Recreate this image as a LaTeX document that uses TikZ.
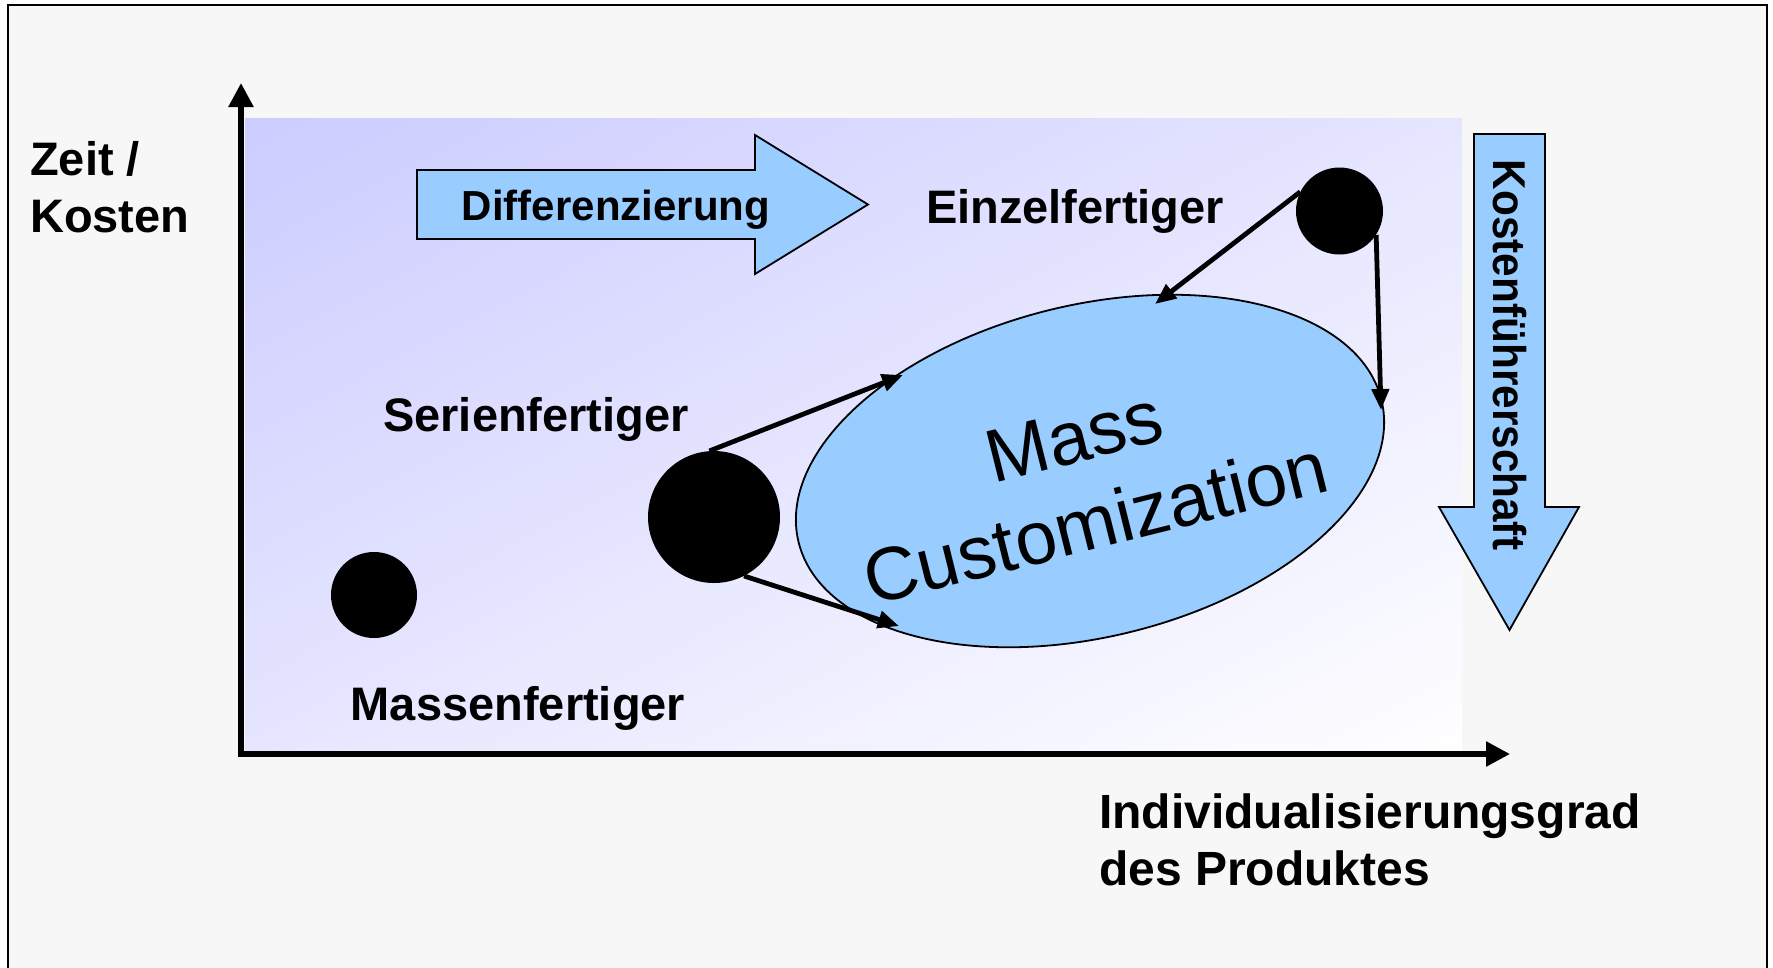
\documentclass[tikz,border=0pt]{standalone}
\usepackage{fontspec}
\setmainfont{Liberation Sans}
\usetikzlibrary{arrows.meta,shapes.geometric}
\definecolor{bgray}{HTML}{F7F7F7}
\definecolor{lav}{RGB}{204,204,255}
\definecolor{lblue}{HTML}{99CCFF}
\begin{document}
\begin{tikzpicture}[x=1pt,y=-1pt,
  lbl/.style={font=\bfseries\fontsize{47}{57}\selectfont, inner sep=0pt},
  lblb/.style={font=\bfseries\fontsize{48}{57}\selectfont, inner sep=0pt},
  dot/.style={circle, fill=black, inner sep=0pt},
  conn/.style={line width=4.8pt, -{Triangle[length=21pt,width=17pt]}},
  bigarrow/.style={fill=lblue, draw=black, line width=1.8pt, line join=miter},
  axisline/.style={line width=5.5pt, line join=miter, {Triangle[length=24pt,width=24pt]}-{Triangle[length=24pt,width=24pt]}}]
\useasboundingbox (0,0) rectangle (1773,967);
\fill[white] (0,0) rectangle (1773,967);
\draw[fill=bgray, line width=2.5pt] (8,990) -- (8,5) -- (1767,5) -- (1767,990);
% plot area: diagonal gradient built from thin strips
\begin{scope}
\clip (245,118) rectangle (1462,750);
\foreach \i in {0,...,99} {
  \pgfmathsetmacro\sa{\i*11.218}
  \pgfmathsetmacro\sb{(\i+1)*11.218+1}
  \pgfmathsetmacro\pc{100-\i}
  \fill[lav!\pc!white]
    ({245+\sa*0.4609-1500*0.8875}, {118+\sa*0.8875+1500*0.4609}) --
    ({245+\sa*0.4609+1500*0.8875}, {118+\sa*0.8875-1500*0.4609}) --
    ({245+\sb*0.4609+1500*0.8875}, {118+\sb*0.8875-1500*0.4609}) --
    ({245+\sb*0.4609-1500*0.8875}, {118+\sb*0.8875+1500*0.4609}) -- cycle;
}
\end{scope}
% axes
\coordinate (ytip) at (241,83);
\coordinate (orig) at (241,754);
\coordinate (xtip) at (1510,754);
\draw[axisline] (ytip) -- (orig) -- (xtip);
% Differenzierung arrow
\draw[bigarrow] (417,170) -- (755,170) -- (755,135) -- (868,204.5) -- (755,274) -- (755,239) -- (417,239) -- cycle;
\node[font=\bfseries\fontsize{42}{50}\selectfont, anchor=base, inner sep=0pt] (diff) at (616,220) {Differenzierung};
% Kostenfuehrerschaft arrow
\draw[bigarrow] (1474,134) -- (1545,134) -- (1545,507) -- (1579,507) -- (1509.5,630) -- (1439,507) -- (1474,507) -- cycle;
\node[rotate=-90, anchor=base, inner sep=0pt, font=\bfseries\fontsize{46}{54}\selectfont] (kf) at (1493,355) {\scalebox{0.92}[1]{Kostenführerschaft}};
% ellipse
\node[ellipse, draw, line width=1.8pt, fill=lblue, minimum width=600pt, minimum height=332pt, inner sep=0pt, rotate=13.7] (mc) at (1090,471) {};
\node[rotate=14, align=center, inner sep=0pt, font=\fontsize{75}{89}\selectfont] (mctext) at (1085,480) {Mass\\Customization};
% dots
\node[dot, minimum size=86pt] (mf) at (374,595) {};
\node[dot, minimum size=132pt] (sf) at (714,517) {};
\node[dot, minimum size=87pt] (ef) at (1339.5,211) {};
% connectors
\coordinate (t1) at (903,375);
\coordinate (t2) at (899,626);
\coordinate (t3) at (1155,304);
\coordinate (t4) at (1381,410);
\draw[conn] (sf.94) -- (t1);
\draw[conn] (sf.-63) -- (t2);
\draw[conn] (ef.154) -- (t3);
\draw[conn] (ef.-33) -- (t4);
% labels
\node[lbl, anchor=base west] (zeit) at (30,175) {Zeit /};
\node[lbl, anchor=base west] (kosten) at (30,232) {Kosten};
\node[lbl, anchor=base] (einzel) at (1075,223) {Einzelfertiger};
\node[lbl, anchor=base] (serien) at (536,431) {Serienfertiger};
\node[lbl, anchor=base] (massen) at (518,720) {Massenfertiger};
\node[lblb, anchor=base west] (indiv) at (1099,828) {Individualisierungsgrad};
\node[lblb, anchor=base west] (prod) at (1099,885) {des Produktes};
\end{tikzpicture}
\end{document}
